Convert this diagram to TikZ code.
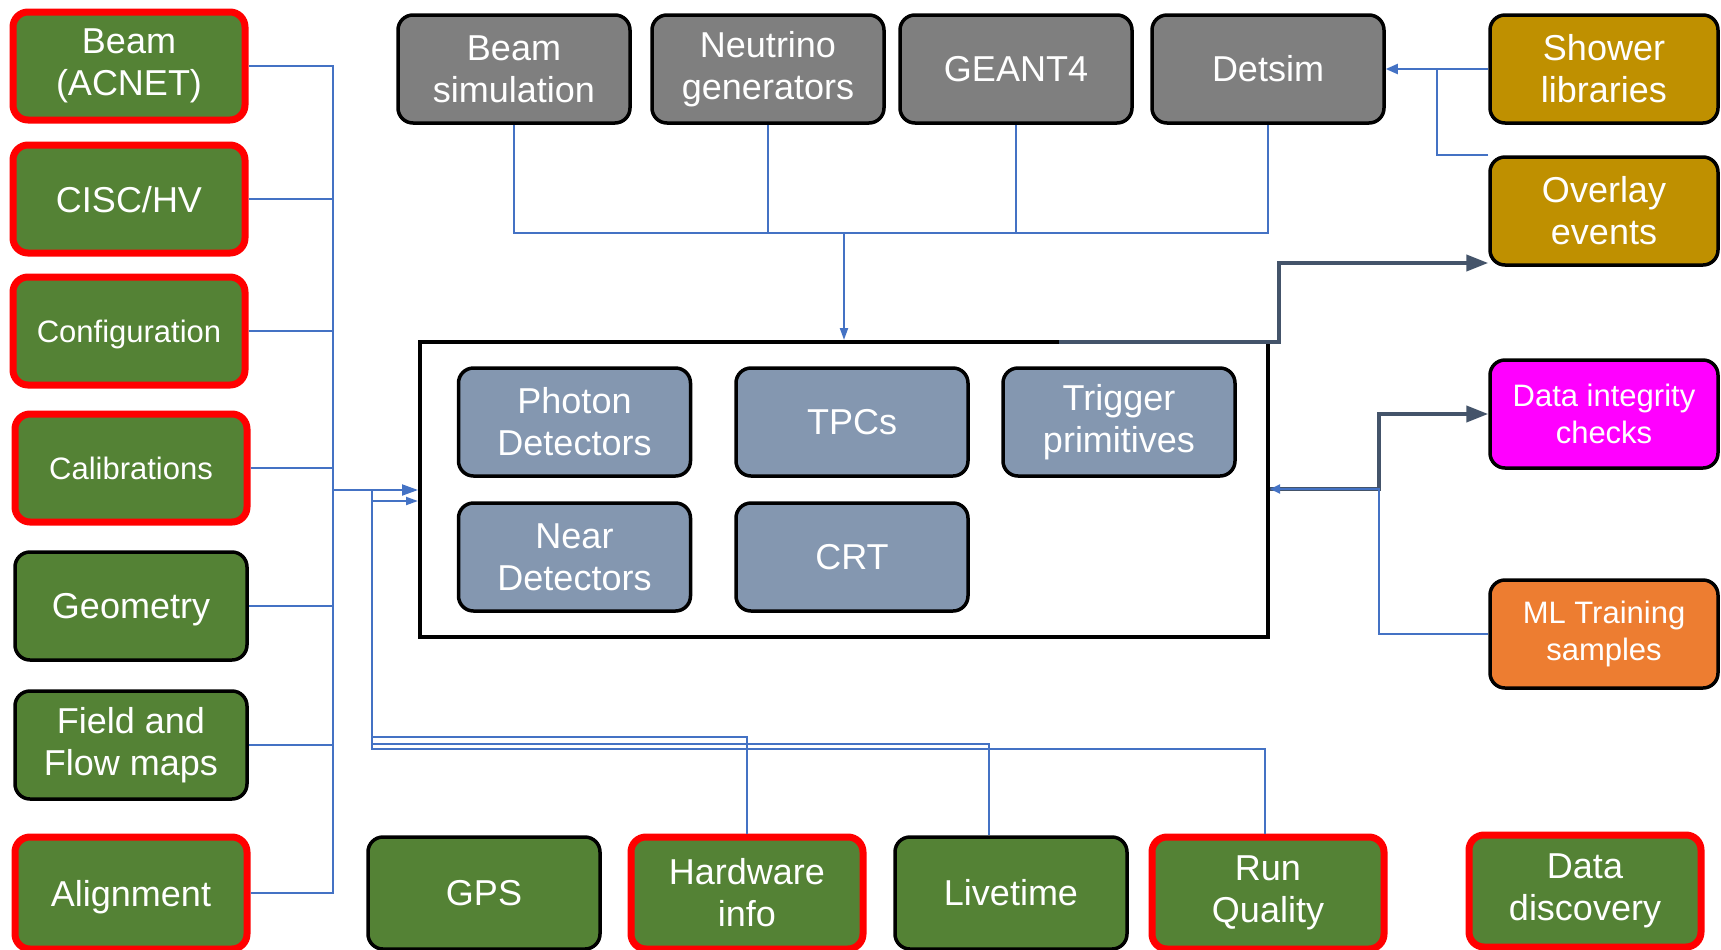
\documentclass[tikz,border=0pt]{standalone}
\usepackage{fontspec}
\setmainfont{Liberation Sans}
\usetikzlibrary{arrows.meta}
\definecolor{gfill}{RGB}{84,130,53}
\definecolor{grfill}{RGB}{127,127,127}
\definecolor{slfill}{RGB}{132,151,176}
\definecolor{gdfill}{RGB}{191,144,0}
\definecolor{mgfill}{RGB}{255,0,255}
\definecolor{orfill}{RGB}{237,125,49}
\definecolor{bline}{RGB}{68,114,196}
\definecolor{dline}{RGB}{68,84,106}
\tikzset{
  box/.style={rounded corners=7.5pt, draw=black, line width=1.75pt, text=white, align=center,
    minimum width=116pt, minimum height=54pt, inner sep=0pt, font=\fontsize{18}{21}\selectfont},
  gbox/.style={box, fill=gfill},
  rbox/.style={box, fill=gfill, draw=red, line width=3.5pt},
  tbox/.style={box, fill=grfill},
  ibox/.style={box, fill=slfill},
  small/.style={font=\fontsize{15.5}{18.5}\selectfont},
  nodepth/.style={text depth=0pt},
  tall/.style={minimum height=56pt},
  bl/.style={draw=bline, line width=1pt},
  dk/.style={draw=dline, line width=2pt},
}
\begin{document}
\begin{tikzpicture}[x=0.5pt,y=-0.5pt]
\useasboundingbox (0,0) rectangle (1721,949);
% left column
\node[rbox] (b1) at (129,66) {Beam\\(ACNET)};
\node[rbox,nodepth] (b2) at (129,199) {CISC/HV};
\node[rbox,small,nodepth] (b3) at (129,331) {Configuration};
\node[rbox,small] (b4) at (131,468) {Calibrations};
\node[gbox,nodepth] (b5) at (131,606) {Geometry};
\node[gbox] (b6) at (131,745) {Field and\\Flow maps};
\node[rbox,nodepth,tall] (b7) at (131,893) {Alignment};
% top row
\node[tbox] (t1) at (514,69) {Beam\\simulation};
\node[tbox] (t2) at (768,69) {Neutrino\\generators};
\node[tbox] (t3) at (1016,69) {GEANT4};
\node[tbox] (t4) at (1268,69) {Detsim};
% right column
\node[box,fill=gdfill,minimum width=114pt] (r1) at (1604,69) {Shower\\libraries};
\node[box,fill=gdfill,minimum width=114pt] (r2) at (1604,211) {Overlay\\events};
\node[box,small,fill=mgfill,minimum width=114pt] (r3) at (1604,414) {Data integrity\\checks};
\node[box,small,fill=orfill,minimum width=114pt] (r4) at (1604,634) {ML Training\\samples};
% bottom row
\node[gbox,tall] (d1) at (484,893) {GPS};
\node[rbox,tall] (d2) at (747,893) {Hardware\\info};
\node[gbox,tall] (d3) at (1011,893) {Livetime};
\node[rbox,tall] (d4) at (1268,893) {Run\\Quality};
\node[rbox,tall] (d5) at (1585,891) {Data\\discovery};
% main box
\node[draw=black, line width=2pt, minimum width=424pt, minimum height=147.5pt, inner sep=0pt] (main) at (844,489.5) {};
\node[ibox] (i1) at (574.5,422) {Photon\\Detectors};
\node[ibox] (i2) at (852,422) {TPCs};
\node[ibox] (i3) at (1119,422) {Trigger\\primitives};
\node[ibox] (i4) at (574.5,557) {Near\\Detectors};
\node[ibox] (i5) at (852,557) {CRT};
% left bus
\coordinate (L) at (333,490);
\foreach \n in {b1,b2,b3,b4,b5,b6,b7} \draw[bl] (\n.east) -| (L);
\draw[bl,-{Triangle[length=8pt,width=5.5pt]}] (L) -- (main.west |- L);
% bottom group
\coordinate (B) at (372,501);
\coordinate (x3) at (989,0);
\coordinate (x4) at (1265,0);
\draw[bl] (d2.north) |- (372,737) -- (B);
\draw[bl] (d3.north -| x3) |- (372,744) -- (B);
\draw[bl] (d4.north -| x4) |- (372,749) -- (B);
\draw[bl] (B) -- (372,490);
\draw[bl,-{Triangle[length=6pt,width=4pt]}] (B) -- (main.west |- B);
% top group
\coordinate (T) at (844,233);
\foreach \n in {t1,t2,t3,t4} \draw[bl] (\n.south) |- (T);
\draw[bl,-{Triangle[length=6pt,width=4pt]}] (T) -- (main.north -| T);
% shower / overlay -> detsim
\coordinate (S) at (1437,69);
\draw[bl] (r2.north west) -| (S);
\draw[bl,-{Triangle[length=6pt,width=5pt]}] (r1.west) -- (t4.east);
% main -> overlay
\coordinate (O1) at (1059,342);
\coordinate (O2) at (1279,263);
\draw[dk,-{Triangle[length=11pt,width=8pt]}] (O1) -- (O2 |- O1) -- (O2) -- (r2.west |- O2);
% ML -> main, main -> data integrity
\coordinate (R) at (1379,489);
\draw[dk,-{Triangle[length=11pt,width=8pt]}] (main.east |- R) -- (R) |- (r3.west);
\draw[bl,-{Triangle[length=5pt,width=4.5pt]}] (r4.west) -| (R) -- (main.east |- R);
\end{tikzpicture}
\end{document}
